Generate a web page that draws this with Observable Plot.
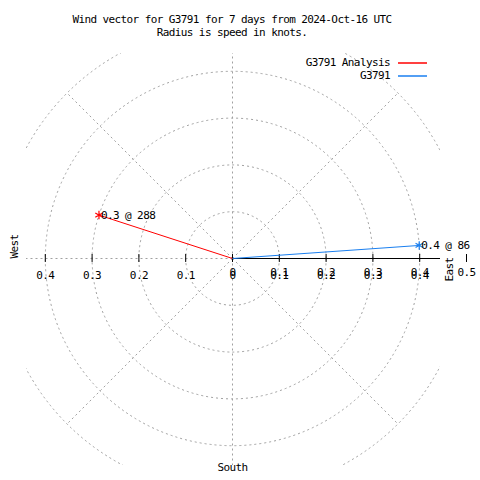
<!DOCTYPE html>
<html><head><meta charset="utf-8">
<script src="https://cdn.jsdelivr.net/npm/d3@7"></script>
<script src="https://cdn.jsdelivr.net/npm/@observablehq/plot@0.6"></script>
<style>
body{margin:0;background:#fff;}
#wrap{position:relative;width:480px;height:480px;font-family:"DejaVu Sans Mono",monospace;font-size:11px;letter-spacing:-0.6px;color:#000;}
#wrap > svg{position:absolute;left:0;top:0;}
.title{position:absolute;left:0;width:464px;text-align:center;line-height:13px;white-space:pre;}
.leg{position:absolute;right:90px;line-height:12px;white-space:pre;}
</style>
</head><body>
<div id="wrap"></div>
<script>
// ---- data ----
const titleLines = ["Wind vector for G3791 for 7 days from 2024-Oct-16 UTC", "Radius is speed in knots."];
const series = ["G3791 Analysis", "G3791"];
const speeds = [0.3, 0.4];          // knots
const directions = [288, 86];       // degrees (compass)
const colors = ["#ff0000", "#1a7ff0"];
const gridRadii = [0.1, 0.2, 0.3, 0.4, 0.5];
const gridAngles = [0, 45, 90, 135, 180, 225, 270, 315];
const xTicks = [-0.4, -0.3, -0.2, -0.1, 0, 0.1, 0.2, 0.3, 0.4];
const eastLabelsR = [0, 0.1, 0.2, 0.3, 0.4, 0.5];
const dirLabels = ["West", "East", "South"];

const rad = a => a * Math.PI / 180;
const pts = series.map((name, i) => ({
  name, speed: speeds[i], dir: directions[i],
  x: speeds[i] * Math.sin(rad(directions[i])),
  y: speeds[i] * Math.cos(rad(directions[i]))
}));
const grey = "#a0a0a0";
const dash = "2,3";
const tickLen = 0.0085;

const plot = Plot.plot({
  width: 480, height: 480,
  marginLeft: 26, marginRight: 40, marginTop: 53, marginBottom: 15,
  x: {domain: [-0.5, 0.5], range: [-2, 466], axis: null},
  y: {domain: [-0.5, 0.5], range: [492, 24], axis: null},
  r: {type: "linear", domain: [0, 0.5], range: [0, 234]},
  color: {domain: series, range: colors},
  style: {fontFamily: "DejaVu Sans Mono, monospace", fontSize: "11px", letterSpacing: "-0.6px", background: "white", color: "black"},
  marks: [
    Plot.dot(gridRadii, {x: () => 0, y: () => 0, r: d => d, stroke: grey, strokeDasharray: dash, fill: "none", strokeWidth: 1, clip: true}),
    Plot.link(gridAngles, {x1: () => 0, y1: () => 0,
      x2: a => 0.5 * Math.sin(rad(a)), y2: a => 0.5 * Math.cos(rad(a)),
      stroke: grey, strokeDasharray: dash, strokeWidth: 1, clip: true}),
    Plot.ruleY([0], {x1: () => 0, x2: () => 0.5, stroke: "black", strokeWidth: 1, clip: true}),
    Plot.ruleX(xTicks.concat([0.5]), {x: d => d, y1: () => -tickLen, y2: () => tickLen, stroke: "black"}),
    Plot.text(eastLabelsR, {x: d => d, y: () => 0, text: d => d3.format("")(d), dy: 14, fill: "black"}),
    Plot.text(xTicks, {x: d => d, y: () => 0, text: d => d3.format("")(Math.abs(d)), dy: 17, fill: "black"}),
    Plot.link(pts, {x1: () => 0, y1: () => 0, x2: "x", y2: "y", stroke: "name", strokeWidth: 1}),
    Plot.dot(pts, {x: "x", y: "y", symbol: "asterisk", r: 4, stroke: "name", strokeWidth: 1.2}),
    Plot.text(pts, {x: "x", y: "y", text: d => `${d.speed} @ ${d.dir}`, textAnchor: "start", dx: 2, fill: "black"}),
    Plot.text([dirLabels[0]], {y: () => 0, frameAnchor: "left", dx: -12, rotate: -90, fill: "black"}),
    Plot.text([dirLabels[1]], {y: () => 0, frameAnchor: "right", dx: 9, dy: -1, rotate: -90, fill: "black"}),
    Plot.text([dirLabels[2]], {x: () => 0, frameAnchor: "bottom", dy: 5, fill: "black"})
  ]
});

const wrap = document.getElementById("wrap");
wrap.appendChild(plot);
titleLines.forEach((t, i) => {
  const d = document.createElement("div");
  d.className = "title";
  d.style.top = (13 + i * 13) + "px";
  d.textContent = t;
  wrap.appendChild(d);
});
series.forEach((s, i) => {
  const y = 63 + i * 12.5;
  const d = document.createElement("div");
  d.className = "leg";
  d.style.top = (y - 6) + "px";
  d.textContent = s;
  wrap.appendChild(d);
  const sw = d3.create("svg").attr("width", 30).attr("height", 4)
    .style("position", "absolute").style("left", "398px")
    .style("top", (Math.round(y) - 2) + "px");
  sw.append("line").attr("x1", 0).attr("x2", 29).attr("y1", 2).attr("y2", 2)
    .attr("stroke", colors[i]).attr("stroke-width", 1.5);
  wrap.appendChild(sw.node());
});
</script>
</body></html>
